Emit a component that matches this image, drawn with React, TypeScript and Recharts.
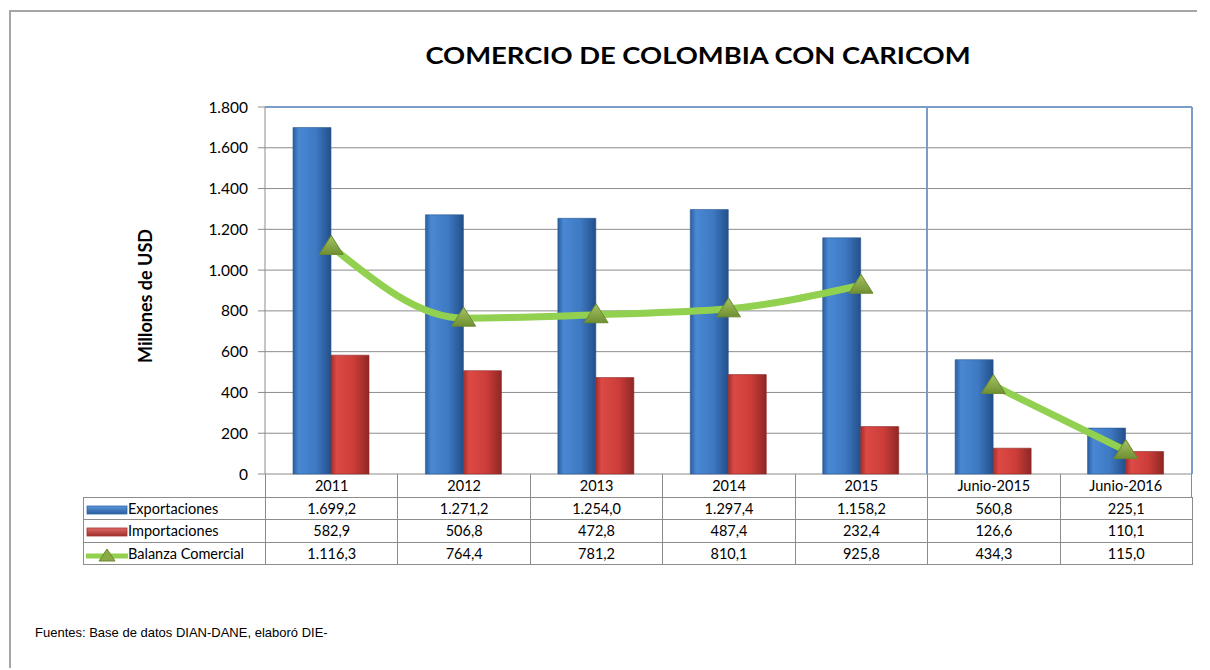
import React from 'react';
import { ComposedChart, Bar, Line, XAxis, YAxis, CartesianGrid, ReferenceLine } from 'recharts';

const categories = ['2011', '2012', '2013', '2014', '2015', 'Junio-2015', 'Junio-2016'];
const exportaciones = [1699.2, 1271.2, 1254.0, 1297.4, 1158.2, 560.8, 225.1];
const importaciones = [582.9, 506.8, 472.8, 487.4, 232.4, 126.6, 110.1];
const balanza = [1116.3, 764.4, 781.2, 810.1, 925.8, 434.3, 115.0];
const yTicks = [0, 200, 400, 600, 800, 1000, 1200, 1400, 1600, 1800];
const annualCount = 5; // años completos antes del corte de junio

const data = categories.map((name, i) => ({
  name,
  exp: exportaciones[i],
  imp: importaciones[i],
  balA: i < annualCount ? balanza[i] : null,
  balB: i >= annualCount ? balanza[i] : null,
}));

const fmtThousands = (v: number) => String(v).replace(/\B(?=(\d{3})+(?!\d))/g, '.');
const fmtValue = (v: number) => {
  const [int, dec] = v.toFixed(1).split('.');
  return fmtThousands(Number(int)) + ',' + dec;
};

// layout (chart coordinates)
const W = 1194;
const H = 660;
const plotLeft = 257;
const plotRight = 1184;
const plotTop = 99;
const plotBottom = 466;
const colW = (plotRight - plotLeft) / categories.length;
const labelLeft = 75;
const rowH = [23, 22, 23, 22];

const Triangle = (props: any) => {
  const { cx, cy, value } = props;
  if (value == null || cx == null) return null;
  return (
    <path
      d={`M${cx},${cy - 11} L${cx + 12},${cy + 8} L${cx - 12},${cy + 8} Z`}
      fill="url(#triFill)"
      stroke="#6b8a2f"
      strokeWidth={1}
    />
  );
};

const LegendIcon = ({ kind }: { kind: string }) => {
  if (kind === 'line') {
    return (
      <svg width={42} height={14} style={{ verticalAlign: 'middle' }}>
        <line x1={1} y1={8} x2={41} y2={8} stroke="#92d050" strokeWidth={5} strokeLinecap="round" />
        <path d="M21,1 L29,13 L13,13 Z" fill="#8aaa44" stroke="#6b8a2f" strokeWidth={1} />
      </svg>
    );
  }
  const c = kind === 'exp' ? ['#2a5d9c', '#5b96dc', '#2f66a8'] : ['#9e2f2b', '#e06a66', '#a8322e'];
  return (
    <svg width={42} height={14} style={{ verticalAlign: 'middle' }}>
      <defs>
        <linearGradient id={'lg' + kind} x1="0" y1="0" x2="0" y2="1">
          <stop offset="0" stopColor={c[1]} />
          <stop offset="1" stopColor={c[0]} />
        </linearGradient>
      </defs>
      <rect x={1} y={3} width={40} height={8} fill={'url(#lg' + kind + ')'} stroke={c[2]} strokeWidth={0.8} />
    </svg>
  );
};

const rows = [
  { kind: 'exp', label: 'Exportaciones', values: exportaciones },
  { kind: 'imp', label: 'Importaciones', values: importaciones },
  { kind: 'line', label: 'Balanza Comercial', values: balanza },
];

const cellBorder = '1px solid #8c8c8c';

const DataTable = () => {
  const tops = [plotBottom];
  for (let i = 0; i < rowH.length; i++) tops.push(tops[i] + rowH[i]);
  return (
    <div style={{ position: 'absolute', left: 0, top: 0, width: W, height: H, pointerEvents: 'none' }}>
      {/* category row */}
      {categories.map((c, j) => (
        <div
          key={c}
          style={{
            position: 'absolute',
            left: plotLeft + j * colW,
            top: tops[0],
            width: colW,
            height: rowH[0],
            borderLeft: cellBorder,
            borderRight: j === categories.length - 1 ? cellBorder : undefined,
            boxSizing: 'border-box',
            textAlign: 'center',
            lineHeight: rowH[0] + 'px',
            fontSize: 14.5,
            color: '#000',
          }}
        >
          {c}
        </div>
      ))}
      {rows.map((r, i) => (
        <React.Fragment key={r.label}>
          <div
            style={{
              position: 'absolute',
              left: labelLeft,
              top: tops[i + 1],
              width: plotLeft - labelLeft + 1,
              height: rowH[i + 1] + 1,
              border: cellBorder,
              boxSizing: 'border-box',
              fontSize: 14.5,
              lineHeight: rowH[i + 1] - 1 + 'px',
              whiteSpace: 'nowrap',
              paddingLeft: 2,
              color: '#000',
            }}
          >
            <LegendIcon kind={r.kind} />
            <span>{r.label}</span>
          </div>
          {r.values.map((v, j) => (
            <div
              key={j}
              style={{
                position: 'absolute',
                left: plotLeft + j * colW,
                top: tops[i + 1],
                width: colW + 1,
                height: rowH[i + 1] + 1,
                border: cellBorder,
                boxSizing: 'border-box',
                textAlign: 'center',
                fontSize: 14.5,
                lineHeight: rowH[i + 1] - 1 + 'px',
                color: '#000',
              }}
            >
              {fmtValue(v)}
            </div>
          ))}
        </React.Fragment>
      ))}
      {/* blue frame lines of the plot area */}
      <div style={{ position: 'absolute', left: plotRight - 1, top: plotTop, width: 2, height: plotBottom - plotTop, background: '#7b9cc9' }} />
      <div style={{ position: 'absolute', left: plotLeft + annualCount * colW - 1, top: plotTop, width: 1.5, height: plotBottom - plotTop, background: '#7b9cc9' }} />
    </div>
  );
};

const App: React.FC = () => {
  return (
    <div style={{ position: 'relative', width: W, height: H, fontFamily: 'Lato, "Open Sans", sans-serif' }}>
      <div
        style={{
          position: 'absolute',
          left: 1,
          top: 2,
          width: W - 6,
          height: H - 2,
          borderTop: '2px solid #a6a6a6',
          borderLeft: '2px solid #a6a6a6',
          boxSizing: 'border-box',
        }}
      />
      <div
        style={{
          position: 'absolute',
          left: 690,
          top: 33,
          transform: 'translateX(-50%) scaleX(1.19)',
          whiteSpace: 'nowrap',
          fontSize: 23,
          fontWeight: 'bold',
          color: '#000',
        }}
      >
        COMERCIO DE COLOMBIA CON CARICOM
      </div>
      <div
        style={{
          position: 'absolute',
          left: 137,
          top: 288,
          transform: 'translate(-50%, -50%) rotate(-90deg)',
          fontSize: 18,
          fontWeight: 'bold',
          whiteSpace: 'nowrap',
          color: '#000',
        }}
      >
        Millones de USD
      </div>
      <ComposedChart
        width={W}
        height={H}
        data={data}
        margin={{ top: plotTop, right: W - plotRight, bottom: H - plotBottom, left: 0 }}
        barGap={0}
        style={{ position: 'absolute', left: 0, top: 0 }}
      >
        <defs>
          <linearGradient id="expFill" x1="0" y1="0" x2="1" y2="0">
            <stop offset="0" stopColor="#2b5e9f" />
            <stop offset="0.15" stopColor="#4a88d4" />
            <stop offset="0.6" stopColor="#3e79c2" />
            <stop offset="1" stopColor="#234f8a" />
          </linearGradient>
          <linearGradient id="impFill" x1="0" y1="0" x2="1" y2="0">
            <stop offset="0" stopColor="#a2302c" />
            <stop offset="0.15" stopColor="#dd4a45" />
            <stop offset="0.6" stopColor="#cc3d39" />
            <stop offset="1" stopColor="#8e2724" />
          </linearGradient>
          <linearGradient id="triFill" x1="0" y1="0" x2="0" y2="1">
            <stop offset="0" stopColor="#a6c464" />
            <stop offset="1" stopColor="#6f8f32" />
          </linearGradient>
        </defs>
        <CartesianGrid horizontal vertical={false} stroke="#8c8c8c" strokeWidth={1} />
        <XAxis dataKey="name" hide />
        <YAxis
          width={plotLeft}
          domain={[0, 1800]}
          ticks={yTicks}
          interval={0}
          tickFormatter={fmtThousands}
          axisLine={{ stroke: '#8c8c8c' }}
          tickLine={{ stroke: '#8c8c8c' }}
          tickSize={7}
          tickMargin={10}
          tick={{ fontSize: 15.5, fill: '#000' }}
        />
        <ReferenceLine y={1800} stroke="#7b9cc9" strokeWidth={2} />
        <Bar dataKey="exp" barSize={38} fill="url(#expFill)" stroke="#2a5790" strokeWidth={0.6} isAnimationActive={false} />
        <Bar dataKey="imp" barSize={38} fill="url(#impFill)" stroke="#8a2724" strokeWidth={0.6} isAnimationActive={false} />
        <Line
          dataKey="balA"
          type="monotone"
          stroke="#92d050"
          strokeWidth={7}
          dot={<Triangle />}
          activeDot={false}
          connectNulls={false}
          isAnimationActive={false}
        />
        <Line
          dataKey="balB"
          type="monotone"
          stroke="#92d050"
          strokeWidth={7}
          dot={<Triangle />}
          activeDot={false}
          connectNulls={false}
          isAnimationActive={false}
        />
      </ComposedChart>
      <DataTable />
      <div
        style={{
          position: 'absolute',
          left: 27,
          top: 617,
          fontFamily: '"Liberation Sans", Arial, sans-serif',
          fontSize: 13,
          color: '#000',
        }}
      >
        Fuentes: Base de datos DIAN-DANE, elaboró DIE-
      </div>
    </div>
  );
};

export default App;
